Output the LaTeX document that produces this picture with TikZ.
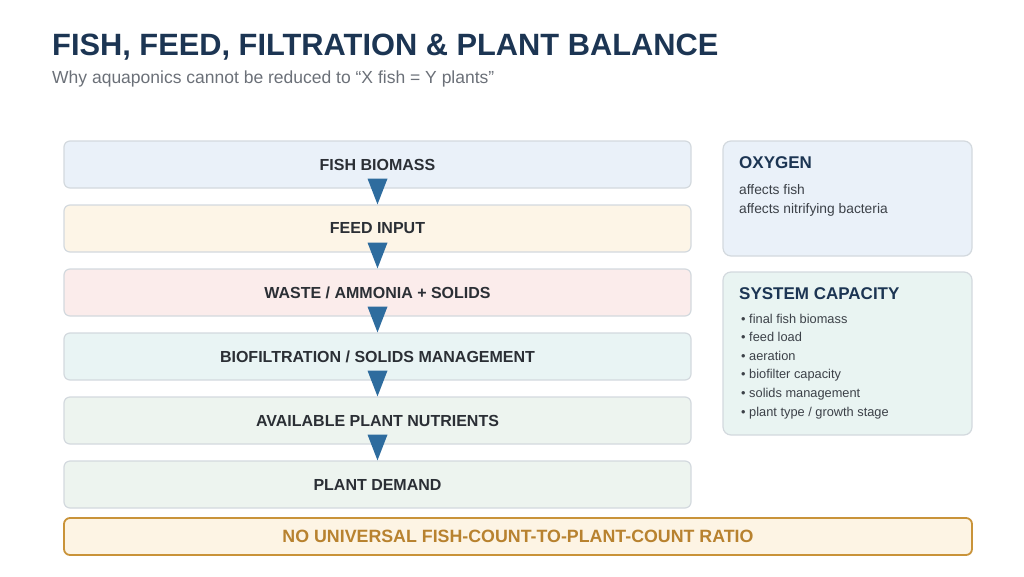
\documentclass[tikz,border=0pt]{standalone}
\usepackage{fontspec}
\setmainfont{Liberation Sans}
\usepackage{tikz}
\usetikzlibrary{arrows.meta}
\definecolor{titlenavy}{HTML}{1C3553}
\definecolor{subgray}{HTML}{6B7078}
\definecolor{boxtext}{HTML}{2B2F35}
\definecolor{paneltext}{HTML}{3C4148}
\definecolor{boxgray}{HTML}{D3D9DE}
\definecolor{flowblue}{HTML}{2E6C9E}
\definecolor{fishfill}{HTML}{EAF1F9}
\definecolor{feedfill}{HTML}{FDF5E7}
\definecolor{wastefill}{HTML}{FBECEB}
\definecolor{filterfill}{HTML}{E9F4F4}
\definecolor{plantfill}{HTML}{EDF4EF}
\definecolor{capfill}{HTML}{E9F4F2}
\definecolor{ratiofill}{HTML}{FDF4E4}
\definecolor{ratioedge}{HTML}{C99339}
\definecolor{ratiotext}{HTML}{B8822F}
\tikzstyle{stage}=[rectangle, rounded corners=6pt, draw=boxgray, line width=1.2pt, minimum width=627pt, minimum height=47pt, text=boxtext, font=\bfseries\fontsize{16}{19}\selectfont]
\tikzstyle{panel}=[rectangle, rounded corners=8pt, draw=boxgray, line width=1.2pt, minimum width=249pt]
\tikzstyle{paneltitle}=[anchor=base west, inner sep=0pt, text=titlenavy, font=\bfseries\fontsize{17}{20}\selectfont]
\tikzstyle{panelline}=[anchor=base west, inner sep=0pt, text=paneltext, font=\fontsize{13.8}{19}\selectfont]
\tikzstyle{bullet}=[anchor=base west, inner sep=0pt, text=paneltext, font=\fontsize{12.8}{18}\selectfont]
\tikzstyle{flow}=[fill=flowblue]

\begin{document}
\begin{tikzpicture}[x=1pt, y=-1pt]
		   \useasboundingbox (0,0) rectangle (1024,576);
		   \node (title) at (52,55)[anchor=base west, inner sep=0pt, text=titlenavy, font=\bfseries\fontsize{30.8}{36}\selectfont] {FISH, FEED, FILTRATION \& PLANT BALANCE};
		   \node (subtitle) at (52,83)[anchor=base west, inner sep=0pt, text=subgray, font=\fontsize{17.5}{21}\selectfont] {Why aquaponics cannot be reduced to “X fish = Y plants”};
		   \begin{scope}
			   \node (fish) at (377.5, 164.5)[stage, fill=fishfill] {FISH BIOMASS};
			   \node (feed) at (377.5, 228.5)[stage, fill=feedfill] {FEED INPUT};
			   \node (waste) at (377.5, 292.5)[stage, fill=wastefill] {WASTE / AMMONIA + SOLIDS};
			   \node (filter) at (377.5, 356.5)[stage, fill=filterfill] {BIOFILTRATION / SOLIDS MANAGEMENT};
			   \node (nutrients) at (377.5, 420.5)[stage, fill=plantfill] {AVAILABLE PLANT NUTRIENTS};
			   \node (demand) at (377.5, 484.5)[stage, fill=plantfill] {PLANT DEMAND};
		   \end{scope}
		   \begin{scope}
			   \path [flow] ([shift={(-10,-10)}]fish.south) -- ([shift={(10,-10)}]fish.south) -- (feed.north) -- cycle;
			   \path [flow] ([shift={(-10,-10)}]feed.south) -- ([shift={(10,-10)}]feed.south) -- (waste.north) -- cycle;
			   \path [flow] ([shift={(-10,-10)}]waste.south) -- ([shift={(10,-10)}]waste.south) -- (filter.north) -- cycle;
			   \path [flow] ([shift={(-10,-10)}]filter.south) -- ([shift={(10,-10)}]filter.south) -- (nutrients.north) -- cycle;
			   \path [flow] ([shift={(-10,-10)}]nutrients.south) -- ([shift={(10,-10)}]nutrients.south) -- (demand.north) -- cycle;
		   \end{scope}
		   \begin{scope}
			   \node (oxygen) at (847.5, 198.5)[panel, fill=fishfill, minimum height=115pt] {};
			   \node (oxytitle) at (739, 168)[paneltitle] {OXYGEN};
			   \node (oxyfish) at (739, 194)[panelline] {affects fish};
			   \node (oxybact) at (739, 213)[panelline] {affects nitrifying bacteria};

			   \node (capacity) at (847.5, 353.5)[panel, fill=capfill, minimum height=163pt] {};
			   \node (captitle) at (739, 299)[paneltitle] {SYSTEM CAPACITY};
			   \node (cap1) at (741, 323)[bullet] {• final fish biomass};
			   \node (cap2) at (741, 341.6)[bullet] {• feed load};
			   \node (cap3) at (741, 360.2)[bullet] {• aeration};
			   \node (cap4) at (741, 378.8)[bullet] {• biofilter capacity};
			   \node (cap5) at (741, 397.4)[bullet] {• solids management};
			   \node (cap6) at (741, 416)[bullet] {• plant type / growth stage};
		   \end{scope}
		   \node (ratio) at (518, 536.5)[rectangle, rounded corners=6pt, draw=ratioedge, line width=1.8pt, fill=ratiofill, minimum width=908pt, minimum height=37pt, text=ratiotext, font=\bfseries\fontsize{17.8}{21}\selectfont] {NO UNIVERSAL FISH-COUNT-TO-PLANT-COUNT RATIO};
	   \end{tikzpicture}
\end{document}
